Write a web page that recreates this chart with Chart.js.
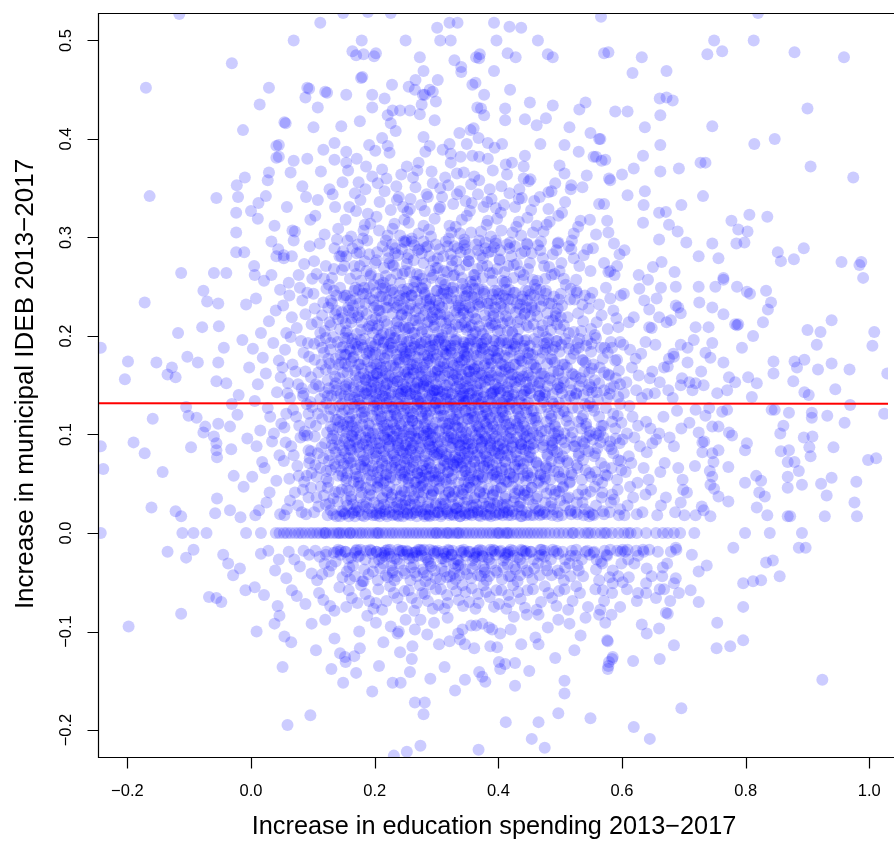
<!DOCTYPE html>
<html>
<head>
<meta charset="utf-8">
<script src="https://cdn.jsdelivr.net/npm/chart.js@4"></script>
<style>
html,body{margin:0;padding:0;background:#fff;overflow:hidden;}
canvas{display:block;}
</style>
</head>
<body>
<canvas id="c" width="894" height="842"></canvas>
<script>
// Axis ticks
const xTicks = [-0.2, 0.0, 0.2, 0.4, 0.6, 0.8, 1.0];
const yTicks = [-0.2, -0.1, 0.0, 0.1, 0.2, 0.3, 0.4, 0.5];
const xTickLabels = ["\u22120.2","0.0","0.2","0.4","0.6","0.8","1.0"];
const yTickLabels = ["\u22120.2","\u22120.1","0.0","0.1","0.2","0.3","0.4","0.5"];
const xTitle = "Increase in education spending 2013\u22122017";
const yTitle = "Increase in municipal IDEB 2013\u22122017";
// Fitted regression line (x, y)
const fitLine = [[-0.2475, 0.1316], [1.0302, 0.1313]];

// Municipality values, stored as (spending increase, IDEB increase) pairs in thousandths
const leftPoints = [
-116,527,-170,452,-31,477,69,500,29,452,14,435,54,417,-13,409,41,393,41,381,69,378,
-164,342,-56,340,-21,341,-23,353,-10,361,29,366,24,342,0,327,-24,325,11,319,-24,305,67,307,
-24,285,-11,285,6,262,33,262,41,281,53,282,66,281,-60,264,-40,264,-113,264,-172,234,-77,246,
-71,235,-53,233,-118,203,-79,209,-52,210,-243,188,-199,174,-204,156,-153,173,-128,168,-135,161,
-122,158,-103,179,-86,173,-53,173,-56,154,-105,128,-101,119,-88,117,-159,116,-74,108,-77,102,
-53,111,-34,108,-243,88,-190,92,-172,81,-97,87,-60,98,-56,91,-56,84,-55,77,-32,85,-239,65,
-143,62,-161,26,-122,22,-113,17,-55,35,-58,20,-34,23,-135,-19,-105,-25,-93,-17,-37,-31,
-18,-36,-29,-43,-68,-65,-56,-66,-48,-70,-198,-95,-113,-82,-20,140,-14,196,-8,232,-40,152,
-28,58,-12,47,-22,120,-6,96,-44,188,-9,-58,-17,16,-31,131,-3,168,-45,-22
];
const topPoints = [
112,518,179,500,250,500,164,489,170,485,182,486,199,484,202,487,149,528,189,529,226,528,
301,513,321,518,334,518,306,500,323,500,393,518,418,514,437,513,397,500,464,500,273,483,
329,480,340,473,340,468,364,483,370,486,369,482,415,487,428,483,480,486,488,483,571,487,
393,469,279,469,178,462,180,463,302,460,266,460,91,452,94,451,120,448,123,447,88,442,154,445,
196,445,216,441,228,455,255,453,265,450,278,445,281,445,289,450,294,448,299,438,358,455,
363,457,377,445,419,450,108,432,176,418,146,413,101,412,56,416,196,432,229,429,241,429,
257,429,221,424,226,416,234,408,273,425,276,435,297,419,366,432,372,431,377,424,411,431,
411,419,443,420,451,437,462,414,477,421,488,434,355,409,360,411,337,406,515,412,531,430,
541,437,549,406,563,400,507,394,530,387,45,394,45,382,91,380,135,396,154,387,135,379,154,376,
171,380,191,394,201,388,212,401,221,393,224,386,271,376,279,402,289,393,282,387,321,395,
323,385,323,376,339,382,349,395,358,383,368,401,369,382,383,396,383,380,394,391,406,395,
443,383,412,374,422,376,441,372,452,359,449,357,481,346,499,373,507,365,518,353,554,382,567,378,
468,395,252,372,310,389,186,372,117,389
];
const rightPoints = [
566,524,820,528,749,500,762,489,738,486,813,500,879,488,959,483,578,488,632,483,617,467,
672,469,661,441,672,442,682,439,662,424,589,428,609,428,637,412,746,413,900,431,565,400,
662,394,814,395,847,400,558,382,573,379,634,383,905,372,974,361,579,360,581,358,600,364,
619,370,662,367,692,370,727,376,735,376,637,347,609,343,635,333,660,325,671,326,696,333,
731,342,563,334,571,334,576,317,578,305,587,294,558,303,634,315,660,298,676,313,690,306,
704,295,746,294,724,281,756,279,777,317,788,308,803,306,806,323,835,321,785,294,798,295,
852,285,857,276,878,278,894,289,955,275,984,272,987,275,592,271,581,266,578,265,650,270,
664,275,685,265,764,259,990,259,794,188,786,211,788,212,828,214,900,206,921,204,939,216,
1008,204,1005,190,915,191,845,174,845,162,879,174,895,176,883,168,877,154,917,166,939,172,
968,166,1029,162,945,146,895,143,902,140,969,130,1024,121,932,119,960,112,907,122,907,117,
870,122,842,125,847,125,861,109,856,101,894,97,908,98,903,87,905,78,942,87,857,83,870,84,
868,72,879,72,886,63,998,74,1011,76,868,57,868,46,891,49,922,50,939,56,979,52,931,38,976,31,
980,17,928,17,868,17,872,17,780,-15,886,-15,897,-15,833,-30,844,-28,855,-44,796,-51,
812,-49,825,-48,724,-39,724,-70,796,-75,754,-91,753,-117,775,-115,796,-109,684,-114,
660,-97,674,-82,671,-81,661,-128,924,-149,696,-178,724,250,751,250,764,257,786,250,802,245,
807,243,833,246,841,234,836,227,725,234,746,229,764,222,783,212,812,200,719,209,740,209,
716,196,746,193,735,183,743,178,764,173,773,158,783,153,804,158,818,152,810,138,754,142,
770,145,695,150,714,145,732,150,719,125,735,119,762,123,770,125,746,108,756,108,778,99,
773,102,802,91,799,84,724,102,730,92,730,82,746,81,748,72,756,84,772,67,746,57,743,49,
749,45,756,37,772,32,799,51,817,58,825,53,822,41,831,37,835,18,818,26,719,18,732,23,743,17,
701,18,695,31,687,-46,666,-35,655,-66,668,-57,639,-51,626,-61,684,-51,611,-45,601,-50,
585,-51,569,-58,644,-17,635,-19,623,-18,609,-17,601,-17,687,-15,679,-19,687,250,663,249,
642,257,687,231,695,223,679,216,660,219,644,209,695,191,684,179,674,169,706,173,709,153,719,152
];
const bottomPoints = [
9,-100,38,-92,46,-84,54,-105,65,-111,51,-136,59,-195,96,-185,105,-119,98,-92,130,-138,
149,-152,170,-142,196,-161,207,-135,229,-152,242,-152,257,-141,260,-128,265,-172,281,-172,
279,-184,274,-216,252,-222,231,-226,135,-107,144,-122,152,-126,214,-111,241,-121,261,-115,
237,-102,265,-98,285,-103,304,-113,313,-136,175,-100,176,-117,202,-91,250,-88,274,-88,
153,-131,167,-125,321,-110,346,-149,369,-141,374,-146,379,-151,368,-220,401,-131,403,-138,
411,-133,427,-132,427,-155,412,-192,454,-209,475,-218,465,-192,497,-183,507,-150,507,-163,
549,-188,619,-197,645,-209,578,-135,584,-128,618,-130,576,-109,533,-104,632,-93,640,-102,
437,-113,460,-106,465,-113,480,-96,446,-83,465,-83,425,-85,398,-116,387,-115,361,-117,
346,-113,338,-108,335,-102,342,-98,356,-94,364,-94,374,-92,390,-98,403,-102,385,-96,239,-100,
585,-126,579,-131,577,-138,577,-110,583,-83,573,-91,563,-83,120,-88,188,-84,226,-95,296,-91,
318,-86,420,-98,497,-88,515,-92,541,-86,523,-119,492,-127,450,-140,290,-148,330,-160
];
// Values that are exactly zero for IDEB increase (spending increase only)
const zeroRowX = [
-243,-111,-93,-72,-8,16,40,46,53,58,64,71,77,82,88,95,100,106,111,117,120,121,127,133,138,142,
144,149,154,160,160,165,171,176,180,186,191,197,202,205,207,213,218,224,229,234,240,246,251,
256,262,267,272,278,283,289,294,299,300,305,310,316,318,321,327,332,335,337,343,348,353,359,
364,370,375,381,386,391,397,400,402,408,413,415,418,424,430,435,441,447,452,458,464,470,476,
483,491,498,505,513,520,522,531,540,545,549,557,566,572,575,584,594,603,610,614,624,639,655,
666,674,684,694,717,799,839,891
];
// Dense central cloud
const corePoints = [
12,335,38,312,27,358,5,271,44,288,21,256,33,296,8,238,29,215,47,247,16,203,40,226,
3,187,24,162,45,175,11,151,36,193,19,178,48,158,6,134,31,118,42,143,15,104,27,127,49,111,37,101,
9,88,22,66,46,79,2,57,34,93,18,72,41,53,13,23,30,41,47,19,25,31,7,18,16,-21,39,-38,28,-18,45,-27,
21,-63,43,-74,6,-55,
58,331,83,352,71,306,96,318,64,366,89,341,53,279,77,262,95,291,61,254,86,273,69,297,99,258,
52,231,74,208,91,244,66,219,83,236,57,203,98,212,79,249,62,241,88,222,
55,186,72,164,94,179,60,152,81,195,97,158,67,171,85,183,51,168,76,151,92,193,64,199,
59,142,73,118,90,131,54,107,82,147,96,112,68,125,87,103,63,137,78,109,99,128,57,121,84,139,
56,92,75,68,93,84,62,55,80,97,98,61,69,79,86,52,53,73,91,99,65,88,77,58,95,76,
58,24,71,41,89,19,63,33,82,21,97,46,54,18,76,28,93,36,61,-19,79,-34,94,-22,57,-46,85,-18,70,-27,98,-41,
66,-58,88,-72,74,-64,
104,322,127,349,141,309,113,367,136,331,148,356,119,303,132,344,108,338,
102,276,118,258,135,289,147,267,111,294,126,252,143,281,106,263,139,298,121,271,131,259,149,286,
101,243,115,221,129,236,144,207,107,214,122,248,138,226,150,239,112,203,125,229,141,217,134,246,117,234,147,224,103,228,129,211,
102,192,114,171,128,186,143,157,109,163,121,198,137,177,149,189,105,151,118,183,132,166,146,173,111,195,124,155,140,194,127,172,136,159,145,181,115,188,103,176,
101,147,116,128,130,139,144,113,108,121,123,102,138,145,147,131,112,136,126,118,141,107,105,109,119,143,134,125,148,104,110,149,122,132,137,115,145,141,129,108,115,116,
103,98,117,76,131,89,146,63,106,57,120,91,135,70,149,84,112,66,125,52,139,95,108,81,122,63,133,99,144,74,114,87,127,79,141,58,104,69,137,82,150,93,
102,21,118,38,133,19,147,44,109,27,124,18,140,32,113,47,129,23,144,17,106,36,121,29,136,42,149,22,
104,-18,119,-31,134,-20,148,-45,111,-24,126,-39,141,-17,107,-48,122,-19,137,-29,115,-42,145,-22,
110,-61,128,-74,143,-55,117,-68,135,-79,
153,318,168,345,182,307,196,362,159,331,174,356,189,324,162,301,177,338,193,314,157,368,185,349,170,327,
151,271,164,289,178,256,191,283,156,297,170,263,184,276,198,252,160,258,173,293,187,266,154,281,167,271,181,299,194,263,176,285,
152,241,163,218,175,233,188,207,199,229,155,205,167,246,179,214,192,238,158,226,171,202,183,249,196,216,161,236,174,221,186,243,197,203,153,213,165,231,180,225,191,210,169,249,
151,198,162,174,173,189,185,156,197,181,156,163,168,192,179,167,191,185,154,151,166,179,177,196,189,158,199,172,159,187,171,154,183,176,194,193,157,169,169,160,181,188,193,165,152,181,164,197,176,171,187,182,198,153,
153,146,164,121,176,138,188,104,199,129,157,113,169,143,180,117,192,135,155,102,167,128,178,149,190,111,160,136,172,107,184,142,196,119,151,125,163,109,175,131,186,148,197,101,158,140,170,115,182,127,194,144,166,103,179,122,189,136,
152,96,163,72,175,88,187,55,198,81,156,61,168,93,179,67,191,85,154,53,166,78,177,99,189,64,160,89,171,57,183,74,195,92,150,70,162,84,174,51,185,97,196,68,158,76,169,65,181,90,193,59,164,98,176,82,188,73,
151,19,162,37,174,22,186,46,197,18,156,28,168,17,179,41,191,25,154,33,166,21,177,48,189,19,199,31,159,43,171,26,183,17,195,38,164,20,181,29,
152,-19,165,-33,177,-17,190,-42,157,-26,170,-18,183,-37,196,-21,160,-47,173,-24,186,-18,199,-30,155,-39,168,-20,180,-49,193,-17,
158,-58,172,-71,185,-62,198,-77,163,-66,178,-53,191,-69,154,-75,
203,321,216,347,229,309,243,364,208,336,221,302,235,352,248,318,212,369,226,328,239,341,205,355,232,314,246,331,219,360,
201,274,213,291,226,257,238,282,249,266,206,258,218,297,231,271,244,288,209,252,222,279,236,263,247,296,204,285,215,269,228,293,241,254,224,274,233,284,
202,244,211,219,223,236,234,205,246,228,206,211,217,249,229,223,240,241,250,207,203,231,214,203,226,246,237,215,248,238,208,226,220,212,231,234,243,221,212,240,224,201,235,229,245,247,218,229,239,209,
201,191,210,168,221,182,232,157,243,196,205,153,216,177,227,193,238,164,249,184,203,171,213,187,224,159,235,176,246,151,207,197,218,162,229,188,240,173,250,161,209,181,220,152,231,198,242,186,204,162,215,194,226,170,237,154,248,179,212,157,223,189,234,168,
202,142,211,118,222,137,233,106,244,129,206,101,217,145,228,113,239,131,250,148,204,124,214,109,225,141,236,119,247,103,208,135,219,127,230,149,241,111,203,115,213,139,224,104,235,133,246,121,209,146,220,110,231,125,242,141,205,131,216,106,227,128,238,143,249,114,221,119,
201,95,212,71,223,88,234,54,245,83,205,62,216,97,227,66,238,91,249,57,203,78,214,51,225,93,236,74,247,99,207,86,218,59,229,81,240,64,250,89,209,53,220,76,231,98,242,69,204,91,215,83,226,56,237,87,248,72,211,64,222,95,233,77,244,61,219,68,
202,18,213,36,224,21,235,44,246,17,206,28,217,19,228,39,239,24,250,33,204,47,215,22,226,31,237,18,248,42,209,25,220,17,231,26,242,37,208,20,219,43,233,19,244,29,
203,-19,214,-31,225,-17,236,-44,247,-22,207,-27,218,-18,229,-38,240,-19,205,-48,216,-23,227,-33,238,-17,249,-41,210,-20,221,-45,232,-26,243,-18,223,-21,
206,-57,219,-69,231,-61,244,-75,212,-78,225,-54,237,-66,248,-59,202,-71,
253,326,266,351,279,312,292,367,258,339,271,304,284,344,297,319,262,361,275,333,288,308,255,315,269,368,281,327,294,355,
252,273,264,292,277,258,289,281,251,297,257,265,270,287,282,253,295,276,260,299,273,262,286,291,299,269,255,283,267,255,279,296,292,259,263,277,276,284,290,266,
251,239,262,216,274,233,285,204,297,227,256,208,267,245,279,221,290,238,253,226,264,203,276,249,288,215,299,236,258,232,270,211,281,244,293,219,254,248,266,225,278,207,289,230,260,241,272,218,284,236,296,209,
252,194,261,171,272,186,283,155,294,179,256,158,267,197,278,168,289,189,299,151,253,176,263,162,274,192,285,173,296,157,258,185,269,153,280,181,291,196,255,166,265,189,276,159,287,177,298,191,260,152,271,178,282,194,293,164,257,182,268,172,279,151,290,185,274,163,
251,144,262,121,273,137,284,103,295,129,255,108,266,141,277,116,288,148,299,112,253,127,264,104,275,131,286,119,297,145,257,136,268,111,279,149,290,124,259,101,270,134,281,107,292,139,254,117,265,146,276,123,287,101,298,132,261,114,272,147,283,129,294,106,258,141,269,126,285,137,
252,93,263,67,274,86,285,52,296,79,256,58,267,96,278,63,289,88,299,54,254,75,265,51,276,92,287,71,298,97,258,84,269,61,280,99,291,66,251,69,262,89,273,56,284,81,295,62,257,98,268,73,279,52,290,94,260,64,271,82,282,59,293,87,255,87,266,77,288,57,
253,19,264,37,275,22,286,45,297,18,257,29,268,17,279,41,290,24,255,33,266,21,277,48,288,18,299,30,259,43,270,26,281,17,292,38,262,20,273,32,284,19,295,42,268,46,251,24,
252,-18,263,-32,274,-17,285,-43,296,-21,256,-26,267,-19,278,-37,289,-17,299,-46,254,-22,265,-40,276,-18,287,-29,298,-19,258,-48,269,-23,280,-17,291,-34,261,-20,283,-25,
255,-58,268,-71,281,-62,294,-77,260,-66,273,-53,286,-69,299,-57,264,-79,277,-61,290,-52,
304,329,319,353,331,311,344,366,309,341,324,305,338,347,349,322,314,361,327,334,341,318,306,350,333,365,347,337,321,312,
302,279,315,296,327,261,339,285,348,272,307,254,320,299,332,276,345,292,310,257,323,283,337,267,346,295,305,288,317,265,329,291,342,253,325,271,334,289,312,266,
301,246,313,222,324,238,336,209,347,231,307,215,318,244,330,226,341,247,349,206,304,233,316,207,327,249,338,219,346,240,309,229,321,216,333,236,344,223,311,243,325,204,336,231,348,248,319,233,340,212,306,222,
303,195,312,172,322,185,333,158,344,194,307,156,317,181,328,196,339,166,349,188,305,169,315,190,326,161,336,179,347,154,309,198,319,164,330,190,341,175,350,157,311,184,321,153,332,197,343,189,302,165,314,191,325,173,338,152,346,181,313,160,324,187,335,169,345,176,
301,145,312,119,323,135,334,107,345,132,305,104,318,143,329,115,340,130,349,149,304,127,315,106,326,142,337,122,348,102,308,138,320,128,331,147,342,113,303,118,314,141,324,101,336,136,346,124,310,144,321,111,332,126,343,139,306,133,317,109,328,131,339,146,350,116,322,120,344,134,
302,92,313,73,324,87,335,51,346,86,306,66,317,94,328,69,339,89,349,58,304,81,315,54,326,91,337,77,347,96,308,83,319,62,330,79,341,67,350,91,310,56,321,75,332,95,343,71,303,88,316,80,327,59,338,84,348,73,312,68,323,97,334,74,345,63,318,70,340,98,
303,21,314,38,325,19,336,43,347,18,307,30,318,20,329,42,340,22,350,34,305,45,316,24,327,29,338,17,349,46,310,27,321,18,332,25,343,39,309,19,320,41,334,20,345,31,324,36,
302,-20,315,-29,326,-18,337,-43,348,-23,308,-26,319,-17,330,-36,341,-20,306,-47,317,-24,328,-31,339,-18,349,-42,311,-19,322,-44,333,-27,344,-17,324,-22,335,-33,313,-39,
307,-57,318,-71,332,-59,343,-74,313,-77,326,-52,336,-68,347,-60,303,-73,317,-63,342,-53,
354,327,367,344,381,313,391,368,357,335,372,306,386,349,398,319,361,362,376,331,389,339,356,354,383,317,396,330,369,358,
352,276,364,293,375,259,389,286,398,268,355,255,369,297,382,271,393,290,358,252,371,282,386,264,396,297,353,283,366,268,379,295,390,256,375,279,384,285,362,262,
351,245,362,218,372,234,385,208,395,229,357,211,368,248,378,221,391,242,399,205,354,229,363,204,377,245,388,213,397,237,359,224,369,210,382,233,392,220,361,239,375,202,386,226,394,246,367,232,390,211,
352,192,361,166,372,183,381,158,392,196,356,155,367,176,376,194,387,163,398,185,354,171,364,187,373,160,384,177,395,151,358,197,369,163,378,187,389,172,399,158,360,182,371,152,380,197,391,185,353,164,366,193,377,170,386,156,397,178,363,159,374,188,385,168,
353,141,362,118,371,137,382,107,393,127,357,103,366,145,377,113,388,132,399,147,355,122,365,109,376,138,387,117,398,105,359,135,368,125,379,148,390,111,352,116,364,137,373,102,384,134,395,122,358,145,369,108,380,123,391,143,356,130,367,107,378,128,389,142,400,114,372,118,
352,95,361,73,372,86,383,56,394,83,356,62,367,96,376,67,387,91,398,57,354,78,363,52,374,93,385,72,396,98,358,85,367,58,378,81,389,64,399,88,360,54,371,76,380,96,391,69,353,90,366,82,375,56,386,87,397,71,362,66,373,92,382,77,393,60,370,68,
353,19,362,36,373,22,384,45,395,18,357,28,368,18,377,40,388,25,399,32,355,46,366,21,375,30,386,19,397,43,360,26,371,17,380,27,391,38,359,21,370,42,382,18,393,30,
354,-19,363,-32,374,-18,385,-44,396,-22,358,-28,367,-18,378,-37,389,-19,356,-46,365,-24,376,-34,387,-17,398,-40,361,-21,372,-44,383,-25,392,-17,374,-23,
357,-56,368,-71,380,-60,393,-75,363,-77,376,-53,386,-65,397,-58,353,-70,367,-62,
404,325,418,345,429,311,441,360,409,333,423,305,434,349,447,320,414,364,427,331,438,340,405,352,433,316,
402,277,414,293,425,259,437,284,448,268,407,256,419,295,430,273,443,286,410,254,421,281,435,265,446,294,403,287,416,271,427,291,440,257,
401,243,412,220,422,237,433,207,445,229,407,213,418,247,428,224,439,240,449,209,404,233,415,205,425,244,436,217,447,236,409,227,419,214,430,233,442,222,411,238,423,203,434,228,444,246,
402,193,411,169,420,184,431,158,442,195,406,155,415,178,426,192,437,165,448,183,404,172,414,186,423,161,434,177,445,153,408,196,417,163,428,189,439,174,449,160,410,180,421,154,432,197,441,187,405,164,416,193,425,171,436,156,
403,143,412,119,421,136,432,107,443,130,407,103,416,144,427,114,438,132,449,147,405,125,413,110,424,140,435,118,446,104,409,134,418,126,429,148,440,112,402,117,414,138,423,105,434,134,445,122,408,145,419,111,430,126,441,140,406,132,417,107,
402,94,411,72,422,87,433,55,444,84,406,63,417,96,426,67,437,90,448,58,404,79,413,52,424,92,435,73,446,98,408,85,419,60,428,82,439,65,449,88,410,54,421,77,430,97,441,70,403,90,414,84,425,57,436,86,447,73,412,65,
401,19,412,37,423,22,434,43,445,18,407,29,416,18,427,40,438,23,449,34,405,46,414,21,425,32,436,17,447,41,410,26,421,18,432,27,443,38,409,21,432,44,
404,-18,415,-32,424,-18,435,-43,446,-21,408,-28,417,-19,428,-37,439,-18,406,-47,415,-22,426,-34,437,-17,448,-40,411,-21,420,-44,431,-25,442,-19,
405,-58,418,-70,432,-60,443,-76,413,-77,424,-53,436,-67,447,-58,401,-72,416,-63,
453,328,467,341,478,313,492,355,458,337,473,306,486,347,497,322,462,312,481,329,
451,274,464,292,476,258,488,283,499,266,456,257,469,296,482,270,494,287,459,252,472,279,486,262,497,295,454,284,
452,242,463,220,473,236,485,206,496,228,457,212,468,247,479,223,490,240,500,207,454,231,465,204,477,246,488,216,498,237,459,226,471,211,482,233,493,220,
451,190,461,168,472,183,483,157,494,195,456,154,467,177,478,193,489,164,499,184,453,171,463,186,474,159,485,177,496,151,458,197,469,162,480,188,491,173,455,181,466,153,477,199,488,186,497,162,
452,142,462,117,471,137,483,106,494,128,456,102,467,144,478,113,489,131,499,148,454,124,464,109,475,140,486,119,497,103,458,135,469,127,480,149,491,110,453,116,466,139,476,104,487,133,498,121,
451,96,462,71,473,89,484,54,495,82,455,62,466,97,477,66,488,92,499,57,453,77,464,51,475,94,486,73,497,99,457,86,468,59,479,80,490,63,454,90,465,68,476,55,487,85,498,72,
452,18,463,37,474,21,485,44,496,17,456,29,467,18,478,40,489,24,500,33,454,46,465,22,476,31,487,18,498,42,460,25,471,19,
453,-19,464,-31,475,-18,486,-43,497,-21,457,-27,468,-17,479,-38,490,-19,455,-47,466,-23,477,-33,488,-17,499,-41,470,-22,
456,-57,469,-70,481,-61,494,-74,462,-78,475,-54,487,-66,498,-59,
503,325,517,349,529,311,543,363,508,336,522,304,536,351,548,318,
502,274,514,291,526,257,538,282,549,266,506,258,519,297,531,271,544,288,509,252,522,279,
501,243,512,219,523,237,534,205,546,228,506,211,517,248,529,223,540,241,550,207,503,231,514,203,526,246,537,215,548,238,
502,191,511,168,522,182,533,157,544,196,506,153,517,177,528,193,539,164,550,184,504,171,514,187,525,159,536,176,547,151,508,197,519,162,530,188,541,173,
503,142,512,118,523,137,534,106,545,129,507,101,518,145,529,113,540,131,550,148,505,124,515,109,526,141,537,119,548,103,509,135,520,127,531,149,542,111,
502,95,513,71,524,88,535,54,546,83,506,62,517,97,528,66,539,91,550,57,504,78,515,51,526,93,537,74,548,99,508,86,519,59,530,81,541,64,
503,18,514,36,525,21,536,44,547,17,507,28,518,19,529,39,540,24,505,47,516,22,527,31,538,18,549,42,
504,-19,515,-31,526,-17,537,-44,548,-22,508,-27,519,-18,530,-38,541,-19,506,-48,517,-23,528,-33,
507,-57,520,-69,532,-61,545,-75,513,-78,526,-54,
553,289,571,274,588,262,596,283,
552,244,567,221,581,238,594,209,559,214,574,249,586,226,598,241,563,232,577,207,591,218,
551,192,564,168,577,183,590,157,556,155,569,177,582,194,595,165,554,171,566,188,579,160,592,176,558,198,571,163,584,188,597,151,
552,143,563,118,576,137,589,106,558,101,571,145,584,113,597,131,555,124,567,109,580,141,593,119,561,135,574,127,587,149,599,112,565,103,
553,95,566,71,579,88,592,54,557,62,570,97,583,66,596,91,555,78,568,51,581,93,594,74,560,86,573,59,586,81,599,64,562,99,
554,18,567,36,580,21,593,44,558,28,571,19,584,39,597,24,556,47,569,22,582,31,595,18,
555,-19,568,-31,581,-17,594,-44,559,-27,572,-18,585,-38,598,-19,563,-48,576,-23,
557,-57,571,-69,584,-61,597,-75,565,-78,
604,287,627,262,
603,243,619,219,636,236,648,208,611,214,628,248,644,227,
602,191,616,168,631,182,645,157,607,153,622,177,638,194,649,164,613,186,627,160,
603,142,617,118,632,137,646,106,608,101,623,145,639,113,612,129,626,109,641,141,
601,95,615,71,629,88,643,54,606,62,620,97,635,66,649,91,611,78,625,51,640,82,
604,18,618,36,633,21,647,44,609,28,624,19,638,39,613,47,
605,-19,620,-31,634,-17,648,-44,610,-27,626,-23,640,-36,
608,-57,624,-69,639,-61,
656,238,672,214,691,229,
654,191,668,168,683,182,697,157,661,153,676,177,
653,142,667,118,682,137,696,106,660,101,675,145,689,124,
655,95,669,71,684,88,698,54,662,62,677,97,691,66,
657,18,671,36,686,21,699,44,663,28,
658,-19,673,-31,688,-17,665,-44,
661,-57,678,-69,692,-61,
706,188,728,164,741,127,709,112,733,93,718,68,742,63,705,41,729,27,713,-22,737,-33,711,-58
];
// Further municipalities in the darkest part of the cloud
const coreExtraPoints = [
88,164,93,121,97,83,85,142,90,58,86,99,94,71,96,133,84,44,
134,268,146,281,
131,233,148,218,119,205,138,241,127,214,144,249,136,222,
142,171,129,193,121,166,137,152,149,163,125,177,133,199,145,188,
139,138,126,147,147,121,132,105,143,129,128,126,135,149,149,110,124,139,140,115,
137,67,146,77,122,55,131,96,143,89,126,73,148,58,134,86,129,64,
142,41,133,35,124,46,147,22,138,17,127,30,
139,-19,130,-33,145,-18,121,-22,
171,284,193,261,184,313,176,271,188,297,
181,243,157,229,196,211,169,238,153,203,187,222,174,247,162,214,198,236,178,206,191,249,165,224,155,241,185,233,172,219,
163,193,189,174,154,181,176,158,197,189,168,165,183,197,159,152,194,168,171,186,186,155,152,172,179,191,198,160,165,178,191,183,157,198,174,171,182,162,161,185,195,154,
175,144,158,126,192,109,167,137,184,118,153,149,199,133,171,104,187,141,162,113,178,129,195,147,155,108,183,123,166,148,190,102,173,135,159,117,197,126,180,110,164,131,188,145,151,139,
186,94,161,71,197,63,172,87,154,56,181,78,193,97,166,52,177,69,158,91,190,84,169,60,152,81,184,66,199,75,163,99,175,57,187,89,156,68,195,53,170,95,182,73,160,85,
168,23,191,39,155,45,179,18,187,31,162,34,196,21,173,47,158,17,184,27,193,44,165,29,177,36,152,20,
176,-23,159,-35,194,-18,168,-44,185,-27,153,-19,197,-39,171,-17,182,-49,162,-25,
222,286,245,263,207,307,236,338,214,254,249,295,229,272,203,277,241,302,218,261,233,289,
231,244,206,226,247,209,219,237,202,218,238,231,213,248,226,203,244,222,209,240,235,213,221,229,250,245,204,207,216,215,240,236,228,247,211,201,
214,193,239,176,205,158,226,185,248,164,219,151,233,198,208,172,243,189,222,160,237,154,201,183,230,170,246,197,212,165,225,192,241,158,206,196,235,181,218,169,249,176,229,153,203,162,245,187,216,178,
227,143,208,124,243,109,217,138,236,117,202,148,249,131,221,103,239,141,211,113,230,128,246,146,205,106,233,121,215,149,240,101,224,134,209,116,248,125,231,110,219,132,244,144,203,136,236,104,213,127,226,119,241,137,207,142,
236,94,212,73,248,62,223,87,204,56,231,79,244,96,217,53,228,68,208,91,241,84,219,60,202,82,234,66,250,76,214,99,225,57,238,89,206,67,246,54,220,95,232,72,210,86,242,59,216,78,229,98,205,51,247,81,
218,24,242,38,205,46,229,18,237,31,212,35,247,21,224,47,208,17,235,27,244,43,215,29,227,36,203,20,239,17,221,41,249,28,
226,-24,209,-36,245,-18,218,-43,236,-27,203,-19,247,-38,221,-17,232,-48,212,-25,240,-31,215,-20,229,-40,
272,288,295,262,257,329,286,341,264,255,299,293,279,274,253,279,291,301,268,263,283,290,260,296,
281,242,256,228,297,211,269,236,252,219,288,232,263,249,276,204,294,224,259,241,285,214,271,228,300,246,254,208,266,216,290,237,278,248,261,203,283,226,296,217,
264,192,289,175,255,157,276,186,298,163,269,152,283,197,258,171,293,190,272,161,287,154,251,182,280,171,296,196,262,166,275,193,291,159,256,195,285,180,268,168,299,177,279,153,253,163,295,186,266,179,282,165,259,188,
277,142,258,123,293,108,267,139,286,116,252,147,299,132,271,102,289,140,261,114,280,127,296,145,255,105,283,122,265,148,290,101,274,133,259,117,298,126,281,111,269,131,294,143,253,135,286,105,263,128,276,118,291,136,257,141,284,149,270,109,
286,93,262,72,298,61,273,88,254,55,281,78,294,97,267,52,278,69,258,92,291,85,269,61,252,81,284,65,300,77,264,98,275,56,288,90,256,66,296,53,270,96,282,73,260,86,292,58,266,79,279,99,255,51,297,82,276,63,289,70,
268,23,292,39,255,46,279,19,287,31,262,35,297,21,274,47,258,18,285,27,294,43,265,29,277,36,253,20,289,17,271,41,299,28,282,24,
276,-23,259,-35,295,-18,268,-44,286,-27,253,-19,297,-38,271,-17,282,-49,262,-25,290,-31,265,-20,279,-40,
318,291,341,259,306,331,333,344,314,252,347,288,325,277,302,269,338,304,311,281,329,262,345,298,
327,245,304,231,346,214,316,238,301,222,336,229,312,247,322,207,343,226,308,243,331,212,319,219,349,241,303,204,315,213,339,236,324,249,309,201,333,224,347,209,
313,195,337,173,304,159,325,183,348,166,317,150,331,195,307,174,342,187,321,163,335,156,301,181,328,170,346,193,311,168,323,190,340,161,305,197,334,178,318,172,349,179,327,155,302,166,344,184,315,182,330,162,309,186,
324,141,306,125,342,107,316,136,335,115,301,146,348,134,320,104,338,139,310,112,329,128,345,147,304,103,332,120,314,150,340,102,323,131,308,119,347,124,330,109,318,133,343,142,302,137,336,106,312,126,326,116,341,138,305,144,333,149,319,111,
335,92,311,74,347,63,322,87,303,57,330,77,343,95,316,51,327,70,307,93,340,83,318,62,301,80,333,67,349,75,313,97,324,55,337,89,305,65,345,52,319,98,331,72,309,85,341,59,315,78,328,96,304,53,346,81,325,64,338,71,
317,22,341,40,304,45,328,18,336,32,311,34,346,20,323,48,307,17,334,26,343,44,314,30,326,37,302,21,338,17,320,42,348,27,331,25,
325,-22,308,-36,344,-19,317,-45,335,-28,302,-18,346,-37,320,-18,331,-47,311,-26,339,-32,314,-21,328,-41,
367,287,391,264,356,305,382,336,363,256,396,294,374,271,352,276,388,301,360,262,379,289,
377,243,353,229,395,212,366,237,351,220,385,233,361,248,372,205,392,223,357,240,381,215,369,230,399,246,354,209,364,217,389,236,375,247,359,202,
363,194,387,176,354,158,375,186,397,165,367,152,381,197,357,171,392,189,371,162,385,155,351,182,379,172,395,195,361,167,373,192,389,160,355,196,384,181,367,169,398,177,378,154,352,164,393,185,365,180,
376,143,357,124,392,108,366,139,385,116,351,147,398,132,370,103,388,141,360,114,379,128,395,146,354,106,382,121,364,149,390,101,373,133,358,117,397,125,380,111,368,131,393,144,352,136,386,105,362,128,375,119,391,137,356,142,
386,94,361,72,397,62,372,87,353,56,380,78,393,96,366,53,377,68,357,91,390,84,368,60,351,82,383,66,399,76,363,99,374,57,387,89,355,67,395,54,369,95,381,73,359,86,391,59,365,79,378,98,352,51,396,81,
367,23,391,39,354,46,378,19,386,31,361,35,396,21,373,47,357,18,384,27,393,43,364,29,376,36,352,20,388,17,370,41,398,28,
375,-24,358,-36,394,-18,367,-43,385,-27,352,-19,396,-38,370,-17,381,-48,361,-25,389,-31,364,-20,378,-40,
418,289,441,262,405,307,433,339,413,255,447,293,425,272,402,278,437,302,410,265,
427,244,404,230,446,211,416,237,401,219,436,232,412,247,422,204,443,223,408,241,431,214,419,228,449,246,403,206,415,216,439,237,
413,193,437,175,404,157,425,186,447,163,417,152,431,197,407,171,442,190,421,161,435,154,401,182,428,171,445,196,411,166,423,192,440,159,405,195,434,180,418,168,448,177,427,153,
426,142,407,123,442,108,416,139,435,116,401,147,448,132,420,102,438,140,410,114,429,127,445,145,404,105,432,122,414,148,440,101,423,133,408,117,447,126,430,111,418,131,443,144,402,136,436,104,412,128,
436,93,411,73,447,61,422,88,403,55,430,78,443,97,416,52,427,69,407,92,440,85,418,61,401,81,433,65,449,77,413,98,424,56,437,90,405,66,445,53,420,96,431,73,409,86,441,58,415,79,
417,23,441,39,404,46,428,19,436,31,411,35,446,21,423,47,407,18,434,27,443,43,414,29,426,36,402,20,438,17,
425,-23,408,-35,444,-18,417,-44,435,-27,402,-19,446,-38,420,-17,431,-49,411,-25,439,-31,414,-20,
468,287,491,263,456,305,483,316,463,256,496,294,474,271,
477,243,454,229,495,212,466,237,452,220,486,233,461,248,472,205,493,223,458,241,481,215,469,230,
463,194,487,176,454,158,476,186,497,165,467,152,481,197,457,171,492,189,471,162,485,155,451,182,479,172,495,195,461,167,474,192,
476,143,457,124,492,108,466,139,485,116,451,147,498,132,470,103,488,141,460,114,479,128,495,146,454,106,482,121,464,149,490,101,473,133,458,117,
486,94,461,72,497,62,472,87,453,56,480,78,493,96,466,53,477,68,457,91,490,84,468,60,451,82,483,66,499,76,463,99,474,57,487,89,
467,23,491,39,454,46,478,19,486,31,461,35,496,21,473,47,457,18,484,27,493,43,
475,-24,458,-36,494,-18,467,-43,485,-27,452,-19,496,-38,470,-17,
518,288,533,317,
527,244,516,237,501,219,536,232,522,204,
513,193,537,175,504,157,525,186,547,163,517,152,531,197,507,171,542,190,521,161,535,154,
526,142,507,123,542,108,516,139,535,116,501,147,548,132,520,102,538,140,510,114,529,127,545,145,
536,93,511,73,547,61,522,88,503,55,530,78,543,97,516,52,527,69,507,92,540,85,518,61,
517,23,541,39,504,46,528,19,536,31,511,35,546,21,
525,-23,508,-35,544,-18,517,-44,535,-27,
556,201,572,188,551,167,589,175,563,152,597,194,578,161,559,143,586,121,570,109,594,138,553,128,581,147,
565,92,598,73,576,58,557,81,590,96,572,67,583,85,561,54,568,41,552,19,587,34,575,-22,558,-37,592,-18,566,-29,580,-45,554,-20,599,-31
];

function toPoints(flat) {
  const out = [];
  for (let i = 0; i + 1 < flat.length; i += 2) out.push({x: flat[i] / 1000, y: flat[i + 1] / 1000});
  return out;
}
const allPoints = []
  .concat(toPoints(corePoints))
  .concat(toPoints(coreExtraPoints))
  .concat(zeroRowX.map(v => ({x: v / 1000, y: 0})))
  .concat(toPoints(leftPoints))
  .concat(toPoints(topPoints))
  .concat(toPoints(rightPoints))
  .concat(toPoints(bottomPoints));

const FONT = '"Liberation Sans", Arial, Helvetica, sans-serif';

const rAxes = {
  id: 'rAxes',
  afterDraw(chart) {
    const {ctx, chartArea: a, scales: {x, y}} = chart;
    ctx.save();
    ctx.strokeStyle = '#000';
    ctx.fillStyle = '#000';
    ctx.lineWidth = 1.2;
    const L = Math.round(a.left) + 0.5, T = Math.round(a.top) + 0.5;
    const R = chart.width + 2, B = Math.round(a.bottom) + 0.5;
    ctx.beginPath();
    ctx.moveTo(R, T); ctx.lineTo(L, T); ctx.lineTo(L, B); ctx.lineTo(R, B);
    ctx.stroke();
    ctx.beginPath();
    xTicks.forEach(v => {
      const px = Math.round(x.getPixelForValue(v)) + 0.5;
      ctx.moveTo(px, B); ctx.lineTo(px, B + 11);
    });
    yTicks.forEach(v => {
      const py = Math.round(y.getPixelForValue(v)) + 0.5;
      ctx.moveTo(L, py); ctx.lineTo(L - 11, py);
    });
    ctx.stroke();
    ctx.font = '16.5px ' + FONT;
    ctx.textAlign = 'center';
    ctx.textBaseline = 'middle';
    xTicks.forEach((v, i) => {
      ctx.fillText(xTickLabels[i], x.getPixelForValue(v), 791);
    });
    yTicks.forEach((v, i) => {
      ctx.save();
      ctx.translate(66, y.getPixelForValue(v));
      ctx.rotate(-Math.PI / 2);
      ctx.fillText(yTickLabels[i], 0, 0);
      ctx.restore();
    });
    ctx.textBaseline = 'alphabetic';
    ctx.font = '25.3px ' + FONT;
    ctx.fillText(xTitle, 494, 834);
    ctx.font = '26px ' + FONT;
    ctx.save();
    ctx.translate(33, 384);
    ctx.rotate(-Math.PI / 2);
    ctx.fillText(yTitle, 0, 0);
    ctx.restore();
    ctx.restore();
  }
};

new Chart(document.getElementById('c'), {
  type: 'scatter',
  data: {
    datasets: [
      {
        type: 'line',
        data: fitLine.map(p => ({x: p[0], y: p[1]})),
        borderColor: '#ff0000',
        borderWidth: 2,
        pointRadius: 0,
        fill: false,
        order: 0,
        clip: 0
      },
      {
        data: allPoints,
        backgroundColor: 'rgba(0,0,255,0.2)',
        borderWidth: 0,
        pointRadius: 6,
        pointHoverRadius: 6,
        order: 1,
        clip: 0
      }
    ]
  },
  options: {
    responsive: false,
    animation: false,
    devicePixelRatio: 1,
    events: [],
    layout: {padding: {left: 98, top: 13, right: 0, bottom: 85}},
    plugins: {legend: {display: false}, tooltip: {enabled: false}},
    scales: {
      x: {type: 'linear', display: false, min: -0.2475, max: 1.0302},
      y: {type: 'linear', display: false, min: -0.2274, max: 0.5279}
    }
  },
  plugins: [rAxes]
});
</script>
</body>
</html>
